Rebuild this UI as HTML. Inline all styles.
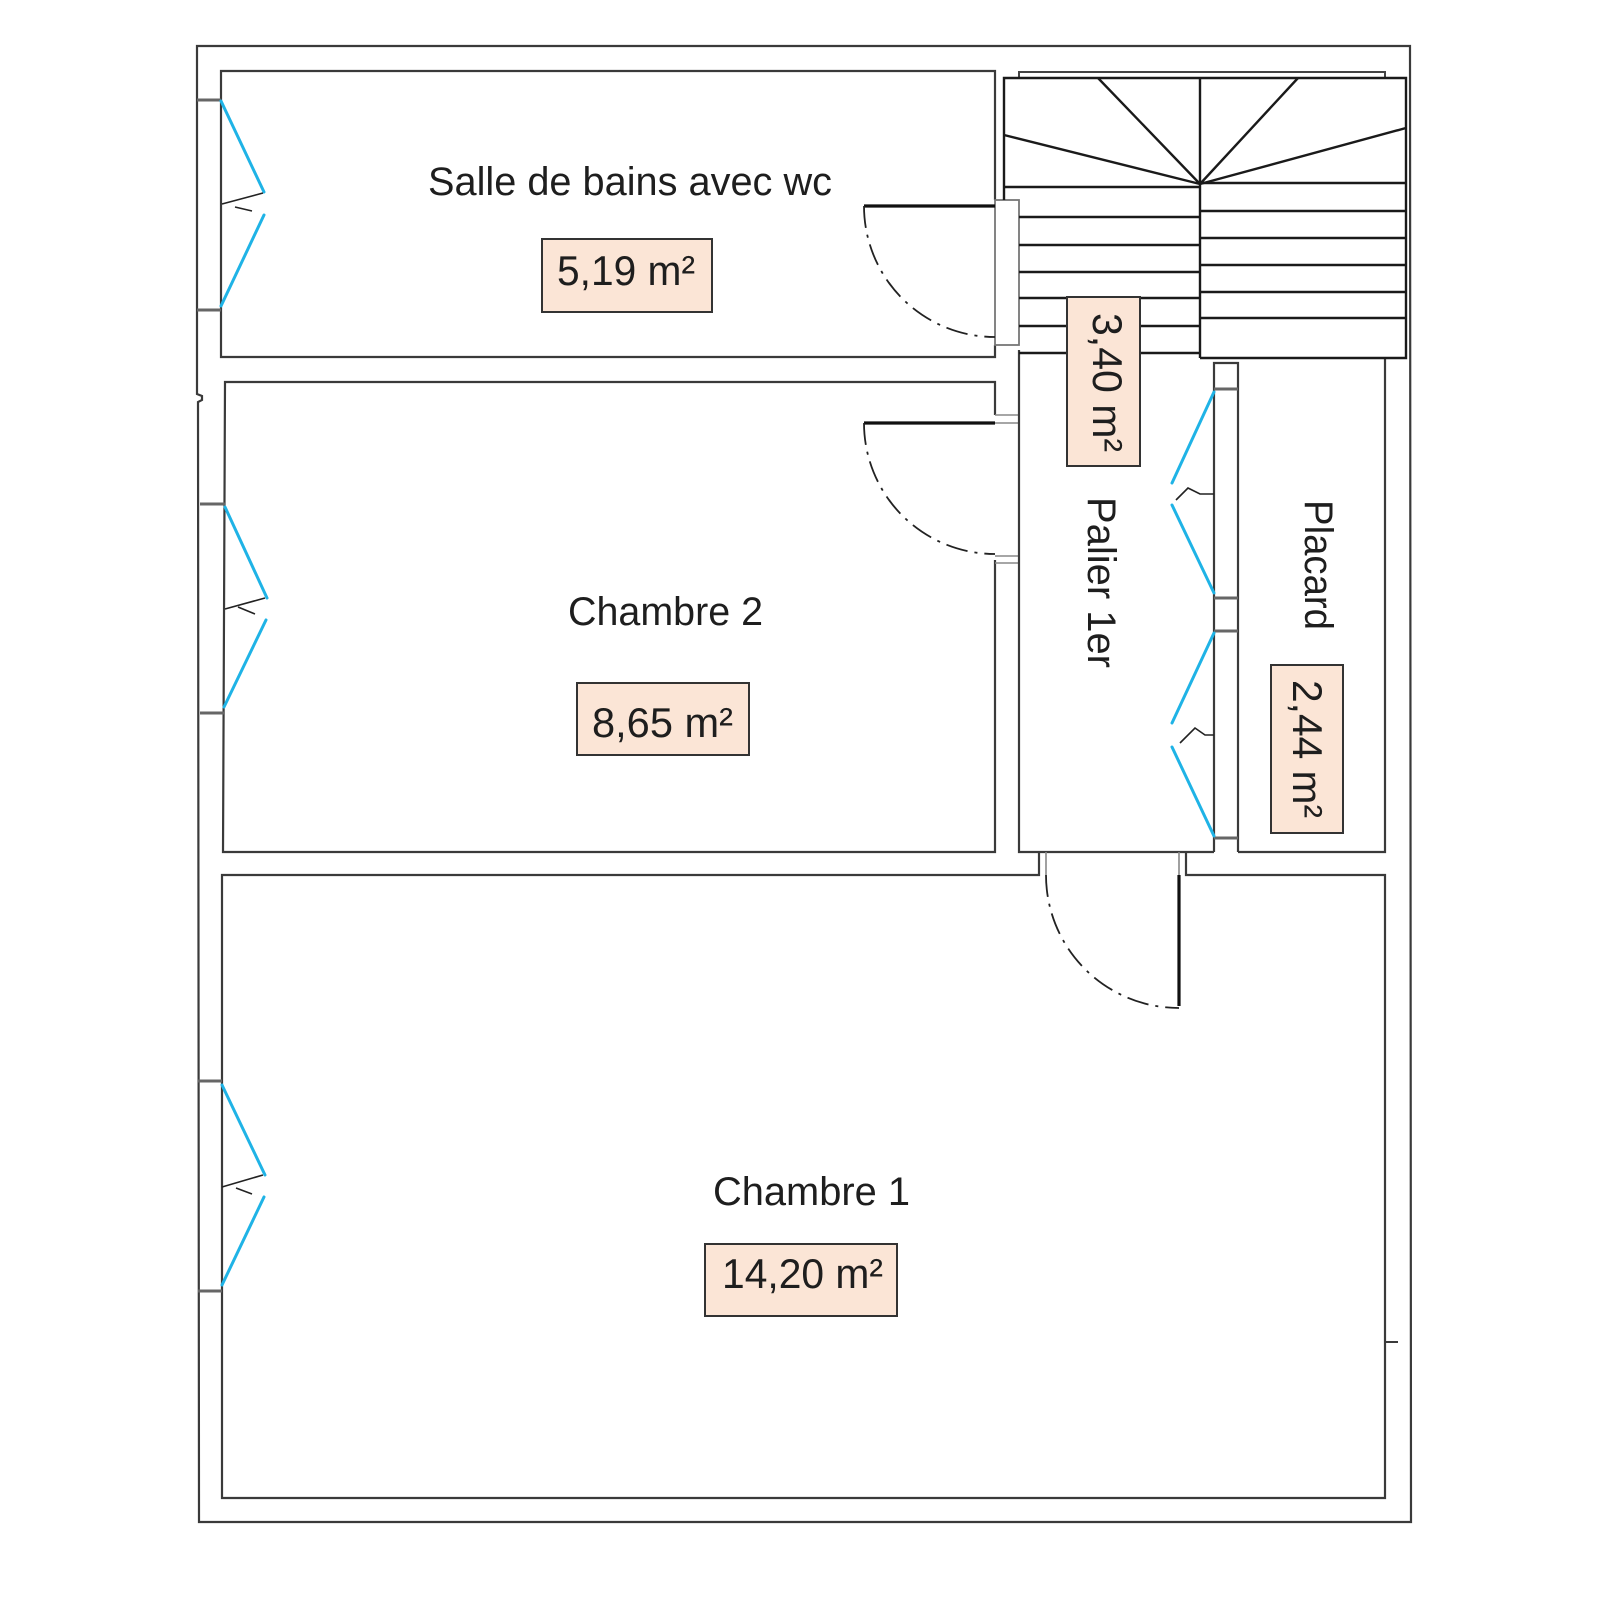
<!DOCTYPE html>
<html>
<head>
<meta charset="utf-8">
<style>
html,body{margin:0;padding:0;background:#fff;}
svg{display:block;}
text{font-family:"Liberation Sans",Arial,sans-serif;fill:#1e1e1e;}
</style>
</head>
<body>
<svg width="1600" height="1600" viewBox="0 0 1600 1600" xmlns="http://www.w3.org/2000/svg">
<rect width="1600" height="1600" fill="#fff"/>

<g fill="none" stroke="#3a3a3a" stroke-width="2.2" stroke-linejoin="miter">
  <!-- outer wall -->
  <path d="M197,46 H1410 L1411,1522 H199 L198,402 L202,400 V396 L197,394 Z"/>

  <!-- Salle de bains -->
  <path d="M995,200 V71 H221 V357 H995 V345"/>
  <rect x="995" y="200" width="24" height="145" stroke="#777" stroke-width="1.8"/>

  <!-- Chambre 2 -->
  <path d="M995,415 V382 H225 L223,852 H995 V560"/>
  <path d="M995,415 H1019 M995,423 H1019 M995,556 H1019 M995,563 H1019" stroke="#888" stroke-width="1.6"/>

  <!-- Palier -->
  <path d="M1019,350 V852 H1214"/>
  <!-- partition palier / placard -->
  <path d="M1214,852 V363 H1238 V852"/>
  <path d="M1214,389 H1238 M1214,598 H1238 M1214,631 H1238 M1214,838 H1238" stroke="#666" stroke-width="3"/>

  <!-- Placard -->
  <path d="M1385,358 V852 H1238"/>

  <!-- Chambre 1 -->
  <path d="M1039,852 V875 H222 L222,1498 H1385 V875 H1186 V852"/>
  <path d="M1046,852 V875 M1179,852 V875" stroke="#888" stroke-width="1.6"/>
  <path d="M1385,1342 H1398" stroke-width="2"/>

  <!-- window sills left wall -->
  <path d="M197,100 H221 M197,310 H221 M200,504 H225 M200,713 H224 M198,1081 H222 M198,1291 H222" stroke="#666" stroke-width="3"/>
</g>

<!-- Stair -->
<g fill="none" stroke="#1a1a1a" stroke-width="2.4">
  <path d="M1019,77 V72 H1385 V77" stroke="#444" stroke-width="2"/>
  <path d="M1004,200 V78 H1406 V358 H1200"/>
  <path d="M1200,78 V358"/>
  <path d="M1004,187 H1200"/>
  <path d="M1019,217 H1200 M1019,245 H1200 M1019,272 H1200 M1019,298 H1200 M1019,326 H1200 M1019,353 H1200"/>
  <path d="M1200,183 H1406 M1200,211 H1406 M1200,238 H1406 M1200,265 H1406 M1200,292 H1406 M1200,318 H1406"/>
  <path d="M1200,184 L1098,78 M1200,184 L1004,135 M1200,184 L1298,78 M1200,184 L1406,128"/>
</g>

<!-- Doors -->
<g fill="none" stroke="#111" stroke-width="3.2">
  <path d="M864,206 H995"/>
  <path d="M864,423 H995"/>
  <path d="M1179,875 V1006"/>
</g>
<g fill="none" stroke="#222" stroke-width="1.8" stroke-dasharray="22,7,3,7">
  <path d="M864,206 A131,131 0 0 0 995,337"/>
  <path d="M864,423 A131,131 0 0 0 995,554"/>
  <path d="M1046,875 A133,133 0 0 0 1179,1008"/>
</g>

<!-- Windows (blue casements) -->
<g fill="none" stroke="#1fb3e6" stroke-width="3" stroke-linecap="round">
  <path d="M221,101 L264,192 M264,215 L221,306"/>
  <path d="M225,507 L267,598 M266,620 L224,707"/>
  <path d="M222,1085 L265,1175 M264,1197 L222,1285"/>
  <path d="M1214,392 L1172,483 M1172,505 L1214,593"/>
  <path d="M1214,633 L1172,723 M1172,747 L1214,836"/>
</g>
<g fill="none" stroke="#222" stroke-width="1.6">
  <path d="M222,204 L263,193 M235,207 L252,211"/>
  <path d="M225,609 L265,598 M238,607 L255,614"/>
  <path d="M222,1187 L263,1175 M236,1188 L252,1194"/>
  <path d="M1176,500 L1188,488 L1200,494 H1214"/>
  <path d="M1180,743 L1195,728 L1205,735 H1214"/>
</g>

<!-- Area boxes -->
<g fill="#fbe5d6" stroke="#333" stroke-width="2">
  <rect x="542" y="239" width="170" height="73"/>
  <rect x="577" y="683" width="172" height="72"/>
  <rect x="705" y="1244" width="192" height="72"/>
  <rect x="1067" y="297" width="73" height="169"/>
  <rect x="1271" y="665" width="72" height="168"/>
</g>

<!-- Labels -->
<g font-size="40">
  <text x="428" y="195" textLength="404" lengthAdjust="spacingAndGlyphs">Salle de bains avec wc</text>
  <text x="557" y="285" textLength="138" lengthAdjust="spacingAndGlyphs" font-size="42">5,19 m²</text>
  <text x="568" y="625" textLength="195" lengthAdjust="spacingAndGlyphs">Chambre 2</text>
  <text x="592" y="737" textLength="141" lengthAdjust="spacingAndGlyphs" font-size="42">8,65 m²</text>
  <text x="713" y="1205" textLength="197" lengthAdjust="spacingAndGlyphs">Chambre 1</text>
  <text x="722" y="1288" textLength="161" lengthAdjust="spacingAndGlyphs" font-size="42">14,20 m²</text>
  <text transform="translate(1093,313) rotate(90)" textLength="139" lengthAdjust="spacingAndGlyphs" font-size="42">3,40 m²</text>
  <text transform="translate(1293,680) rotate(90)" textLength="138" lengthAdjust="spacingAndGlyphs" font-size="42">2,44 m²</text>
  <text transform="translate(1088,497) rotate(90)" textLength="171" lengthAdjust="spacingAndGlyphs">Palier 1er</text>
  <text transform="translate(1305,500) rotate(90)" textLength="130" lengthAdjust="spacingAndGlyphs">Placard</text>
</g>
</svg>
</body>
</html>
